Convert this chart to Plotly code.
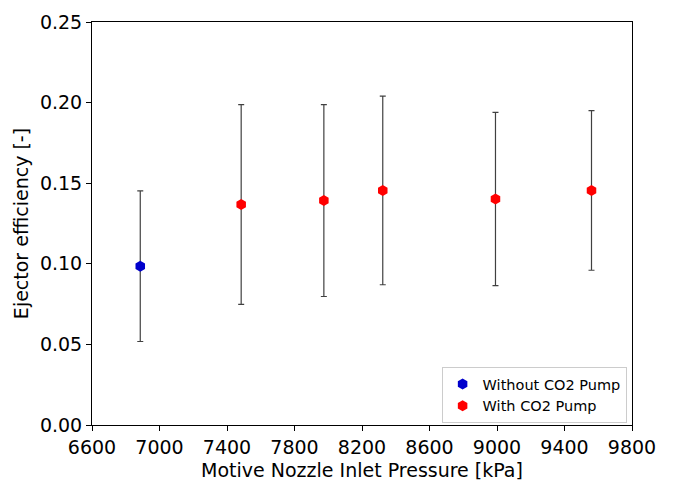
import plotly.graph_objects as go

# Data
pressure_no_pump = [6886]
eff_no_pump = [0.0985]
err_no_pump = [0.0467]

pressure_pump = [7484, 7974, 8323, 8991, 9560]
eff_pump = [0.1368, 0.1392, 0.1455, 0.1402, 0.1455]
err_pump = [0.0620, 0.0595, 0.0585, 0.0537, 0.0495]

x_ticks = [6600, 7000, 7400, 7800, 8200, 8600, 9000, 9400, 9800]
y_ticks = [0.00, 0.05, 0.10, 0.15, 0.20, 0.25]

font_family = "DejaVu Sans"

fig = go.Figure()
fig.add_trace(go.Scatter(
    x=pressure_no_pump, y=eff_no_pump, mode="markers",
    name="Without CO2 Pump",
    marker=dict(symbol="hexagon", size=11, color="#0000cc"),
    error_y=dict(type="data", array=err_no_pump, visible=True,
                 color="rgba(0,0,0,0.75)", thickness=1.2, width=3),
))
fig.add_trace(go.Scatter(
    x=pressure_pump, y=eff_pump, mode="markers",
    name="With CO2 Pump",
    marker=dict(symbol="hexagon", size=11, color="#ff0000"),
    error_y=dict(type="data", array=err_pump, visible=True,
                 color="rgba(0,0,0,0.75)", thickness=1.2, width=3),
))

axis_common = dict(
    showline=True, linecolor="black", linewidth=1, mirror=True,
    ticks="outside", ticklen=5, tickcolor="black", tickwidth=1,
    showgrid=False, zeroline=False,
    tickfont=dict(family=font_family, size=19, color="black"),
)

fig.update_xaxes(
    range=[6600, 9800], tickvals=x_ticks,
    ticktext=[str(v) for v in x_ticks],
    title=dict(text="Motive Nozzle Inlet Pressure [kPa]",
               font=dict(family=font_family, size=19, color="black"),
               standoff=6),
    **axis_common,
)
fig.update_yaxes(
    range=[0, 0.25], tickvals=y_ticks,
    ticktext=[f"{v:.2f}" for v in y_ticks],
    title=dict(text="Ejector efficiency [-]",
               font=dict(family=font_family, size=19, color="black"),
               standoff=6),
    **axis_common,
)

fig.update_layout(
    width=675, height=488,
    margin=dict(l=92, r=43, t=11, b=52),
    paper_bgcolor="white", plot_bgcolor="white",
    font=dict(family=font_family, color="black"),
    legend=dict(
        x=0.99, y=0.005, xanchor="right", yanchor="bottom",
        bgcolor="white", bordercolor="#cccccc", borderwidth=1,
        font=dict(family=font_family, size=14.5, color="black"),
        itemwidth=30, tracegroupgap=0,
    ),
    showlegend=True,
)

fig.write_html("out.html")
